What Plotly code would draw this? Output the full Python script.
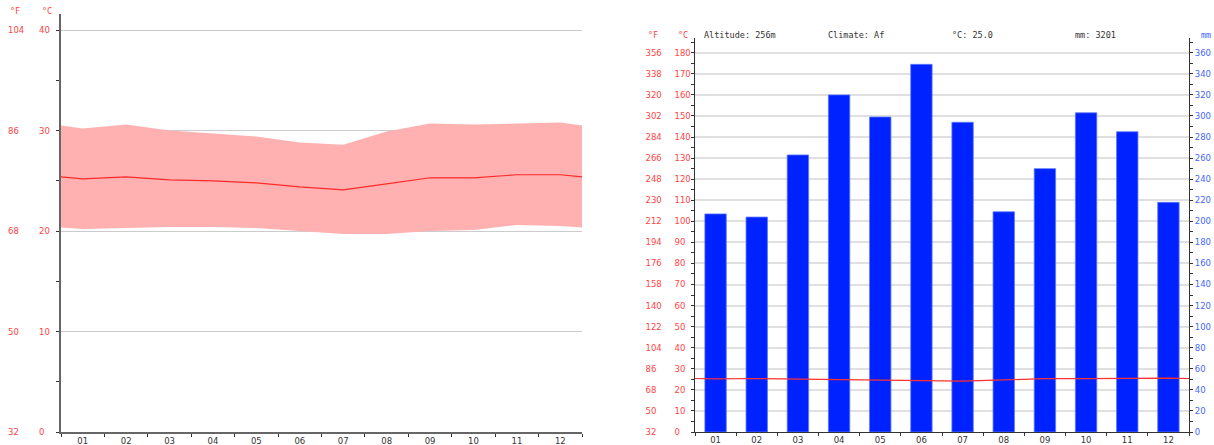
import plotly.graph_objects as go

# Monthly climate normals
months = ["01", "02", "03", "04", "05", "06", "07", "08", "09", "10", "11", "12"]
temp_mean = [25.2, 25.4, 25.1, 25.0, 24.8, 24.4, 24.1, 24.7, 25.3, 25.3, 25.6, 25.6]
temp_max = [30.2, 30.6, 30.0, 29.7, 29.4, 28.8, 28.6, 29.9, 30.7, 30.6, 30.7, 30.8]
temp_min = [20.2, 20.3, 20.4, 20.4, 20.3, 20.0, 19.7, 19.7, 20.0, 20.1, 20.6, 20.5]
precip_mm = [207, 204, 263, 320, 299, 349, 294, 209, 250, 303, 285, 218]

altitude_m = 256
climate_class = "Af"

W, H = 1214, 445
RED = "#ff4444"
BLUE = "#4466ff"
DARK = "#333333"
TICKFONT = dict(family="DejaVu Sans", size=8.5)
MONO = dict(family="DejaVu Sans Mono", size=8.5, color=DARK)

n = len(months)
xs = list(range(1, n + 1))
bounds = [i + 0.5 for i in range(n + 1)]


def wrap(vals):
    # year wraps around: the chart edges sit halfway between December and January
    edge = (vals[0] + vals[-1]) / 2
    return [0.5] + xs + [n + 0.5], [edge] + list(vals) + [edge]


def to_f(vals):
    return [v * 1.8 + 32 for v in vals]


def px_x(p):
    return p / W


def px_y(p):
    return (H - p) / H


annual_mean = sum(temp_mean) / n
annual_precip = sum(precip_mm)

fig = go.Figure()

# ---- left panel: temperature range ----
bx, lo = wrap(temp_min)
_, hi = wrap(temp_max)
_, mid = wrap(temp_mean)
fig.add_trace(go.Scatter(x=bx, y=lo, mode="lines", line=dict(width=0, color="#ffb0b0"),
                         xaxis="x", yaxis="y", hoverinfo="skip"))
fig.add_trace(go.Scatter(x=bx, y=hi, mode="lines", line=dict(width=0, color="#ffb0b0"),
                         fill="tonexty", fillcolor="#ffb1b1", xaxis="x", yaxis="y", hoverinfo="skip"))
fig.add_trace(go.Scatter(x=bx, y=mid, mode="lines", line=dict(width=1.2, color="#ff2a2a"),
                         xaxis="x", yaxis="y"))

# ---- right panel: precipitation bars + mean temperature ----
fig.add_trace(go.Bar(x=xs, y=precip_mm, width=0.52,
                     marker=dict(color="#0022ff", line=dict(color="#5a78ff", width=0.8)),
                     xaxis="x2", yaxis="y5"))
fig.add_trace(go.Scatter(x=bx, y=mid, mode="lines", line=dict(width=1.2, color="#ff3030"),
                         xaxis="x2", yaxis="y6"))

# the secondary scales (°F / °C label columns) carry the same mean curve,
# drawn without ink, so that each scale is laid out by plotly
for xa, ya, vals in [("x", "y2", to_f(mid)), ("x", "y3", mid),
                     ("x2", "y7", to_f(mid)), ("x2", "y8", mid)]:
    fig.add_trace(go.Scatter(x=bx, y=vals, mode="lines", line=dict(width=0), opacity=0,
                             xaxis=xa, yaxis=ya, hoverinfo="skip"))

L_TOP, BOT, R_TOP = 14, 432, 38
C_MAX_L = 41.6
C_MAX_R = 187.0

xcommon = dict(
    range=[0.5, n + 0.5], tickmode="array", tickvals=xs, ticktext=months,
    ticks="", showgrid=False, zeroline=False, showline=True, automargin=False,
    tickfont=dict(**TICKFONT, color=DARK),
    minor=dict(tickmode="array", tickvals=bounds, ticks="outside", ticklen=3,
               tickcolor=DARK, showgrid=False),
    fixedrange=True,
)


def label_axis(over, pos, rng, start, step, color):
    return dict(overlaying=over, anchor="free", position=px_x(pos), side="right",
                range=rng, tick0=start, dtick=step, ticks="", automargin=False,
                showline=False, showgrid=False, zeroline=False,
                tickfont=dict(**TICKFONT, color=color), fixedrange=True)


fig.update_layout(
    width=W, height=H, margin=dict(l=0, r=0, t=0, b=0, autoexpand=False),
    paper_bgcolor="white", plot_bgcolor="white", showlegend=False,
    xaxis=dict(domain=[px_x(61), px_x(582)], anchor="y", linecolor="#666666", linewidth=2,
               **xcommon),
    yaxis=dict(domain=[px_y(BOT), px_y(L_TOP)], anchor="x", range=[0, C_MAX_L],
               tick0=0, dtick=10, ticks="outside", ticklen=3, tickcolor=DARK,
               minor=dict(tick0=0, dtick=5, ticks="outside", ticklen=3, tickcolor=DARK),
               showticklabels=False, showline=True, linecolor="#666666", linewidth=2,
               showgrid=True, gridcolor="#cccccc", gridwidth=1, zeroline=False,
               automargin=False, fixedrange=True),
    # Fahrenheit and Celsius label columns
    yaxis2=label_axis("y", 7, [32, 32 + 1.8 * C_MAX_L], 32, 18, RED),
    yaxis3=label_axis("y", 38, [0, C_MAX_L], 0, 10, RED),
    # right frame line of the temperature panel
    yaxis4=dict(overlaying="y", anchor="x", side="right", range=[0, C_MAX_L],
                showticklabels=False, ticks="", showline=True, linecolor="#444444",
                linewidth=1.5, showgrid=False, zeroline=False, automargin=False,
                fixedrange=True),

    xaxis2=dict(domain=[px_x(695), px_x(1189)], anchor="y5", linecolor=DARK, linewidth=1.2,
                **xcommon),
    # precipitation axis (right)
    yaxis5=dict(domain=[px_y(BOT), px_y(R_TOP)], anchor="x2", side="right",
                range=[0, 2 * C_MAX_R], tick0=0, dtick=20, ticks="outside", ticklen=3,
                tickcolor=DARK,
                minor=dict(tick0=0, dtick=10, ticks="outside", ticklen=3, tickcolor=DARK),
                showline=True, linecolor=DARK, linewidth=1.2,
                showgrid=True, gridcolor="#e0e0e0", gridwidth=2, zeroline=False,
                automargin=False,
                tickfont=dict(**TICKFONT, color=BLUE), fixedrange=True),
    # temperature axis (left)
    yaxis6=dict(overlaying="y5", anchor="x2", side="left", range=[0, C_MAX_R],
                tick0=0, dtick=10, ticks="outside", ticklen=3, tickcolor=DARK,
                minor=dict(tick0=0, dtick=5, ticks="outside", ticklen=3, tickcolor=DARK),
                showticklabels=False, showline=True, linecolor=DARK, linewidth=1.2,
                showgrid=False, zeroline=False, automargin=False, fixedrange=True),
    yaxis7=label_axis("y5", 644.5, [32, 32 + 1.8 * C_MAX_R], 32, 18, RED),
    yaxis8=label_axis("y5", 673.5, [0, C_MAX_R], 0, 10, RED),
)

HEAD = dict(family=MONO["family"], size=8.5)
annotations = [
    dict(text="°F", x=px_x(8), y=px_y(11), font=dict(**HEAD, color=RED)),
    dict(text="°C", x=px_x(40), y=px_y(11), font=dict(**HEAD, color=RED)),
    dict(text="°F", x=px_x(646), y=px_y(34.5), font=dict(**HEAD, color=RED)),
    dict(text="°C", x=px_x(676), y=px_y(34.5), font=dict(**HEAD, color=RED)),
    dict(text="mm", x=px_x(1199), y=px_y(34.5), font=dict(**HEAD, color=BLUE)),
    dict(text=f"Altitude: {altitude_m}m", x=px_x(702), y=px_y(34.5), font=MONO),
    dict(text=f"Climate: {climate_class}", x=px_x(826), y=px_y(34.5), font=MONO),
    dict(text=f"°C: {annual_mean:.1f}", x=px_x(950), y=px_y(34.5), font=MONO),
    dict(text=f"mm: {annual_precip}", x=px_x(1073), y=px_y(34.5), font=MONO),
]
for a in annotations:
    a.update(xref="paper", yref="paper", xanchor="left", yanchor="middle",
             showarrow=False)
fig.update_layout(annotations=annotations)

fig.write_html("out.html", config={"displayModeBar": False})
